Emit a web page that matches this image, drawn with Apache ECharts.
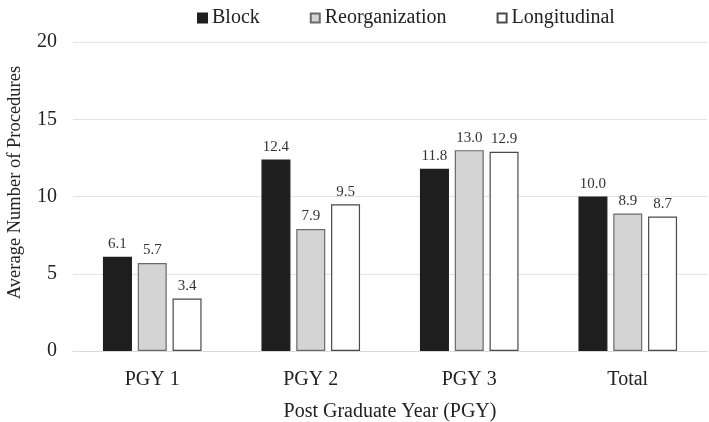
<!DOCTYPE html>
<html><head><meta charset="utf-8">
<script src="https://cdn.jsdelivr.net/npm/echarts@6/dist/echarts.min.js"></script>
<style>html,body{margin:0;padding:0;background:#fff}#c{width:709px;height:422px}</style>
</head><body><div id="c"></div>
<script>
const categories = ['PGY 1','PGY 2','PGY 3','Total'];
const block = [6.1, 12.4, 11.8, 10.0];
const reorganization = [5.7, 7.9, 13.0, 8.9];
const longitudinal = [3.4, 9.5, 12.9, 8.7];
const yTicks = [0,5,10,15,20];

const font = '"Liberation Serif", "Times New Roman", serif';
const chart = echarts.init(document.getElementById('c'));
const lbl = {show:true, position:'top', distance:5, fontFamily:font, fontSize:15, color:'#333', formatter: p => p.value.toFixed(1)};
function s(name, data, color, border){
  return {name, type:'bar', data, barWidth:29, barGap:'20%',
    itemStyle:{color, borderColor:border, borderWidth:1.2}, label:lbl};
}
chart.setOption({
  animation:false,
  textStyle:{fontFamily:font},
  legend:{top:3, left:192, itemWidth:9, itemHeight:9, itemGap:50,
    textStyle:{fontFamily:font, fontSize:20, color:'#222'},
    data:[{name:'Block',icon:'rect'},{name:'Reorganization',icon:'rect'},{name:'Longitudinal',icon:'rect'}]},
  grid:{left:73, right:2, top:42, bottom:71, containLabel:false, outerBoundsMode:'none'},
  xAxis:{type:'category', data:categories,
    axisLine:{lineStyle:{color:'#d9d9d9'}}, axisTick:{show:false},
    axisLabel:{fontFamily:font, fontSize:20, color:'#222', margin:19},
    name:'Post Graduate Year (PGY)', nameLocation:'middle', nameGap:51,
    nameTextStyle:{fontFamily:font, fontSize:20, color:'#222'}},
  yAxis:{type:'value', min:0, max:20, interval:5,
    axisLine:{show:false}, axisTick:{show:false},
    splitLine:{lineStyle:{color:'#e3e3e3'}},
    axisLabel:{fontFamily:font, fontSize:20, color:'#222', margin:16, formatter:v=>yTicks.includes(v)?String(v):''},
    name:'Average Number of Procedures', nameLocation:'middle', nameGap:48,
    nameTextStyle:{fontFamily:font, fontSize:18.5, color:'#222', padding:[0,0,0,28]}},
  series:[
    s('Block', block, '#1e1e1e', '#1e1e1e'),
    s('Reorganization', reorganization, '#d4d4d4', '#6b6b6b'),
    s('Longitudinal', longitudinal, '#ffffff', '#4a4a4a')
  ]
});
</script></body></html>
